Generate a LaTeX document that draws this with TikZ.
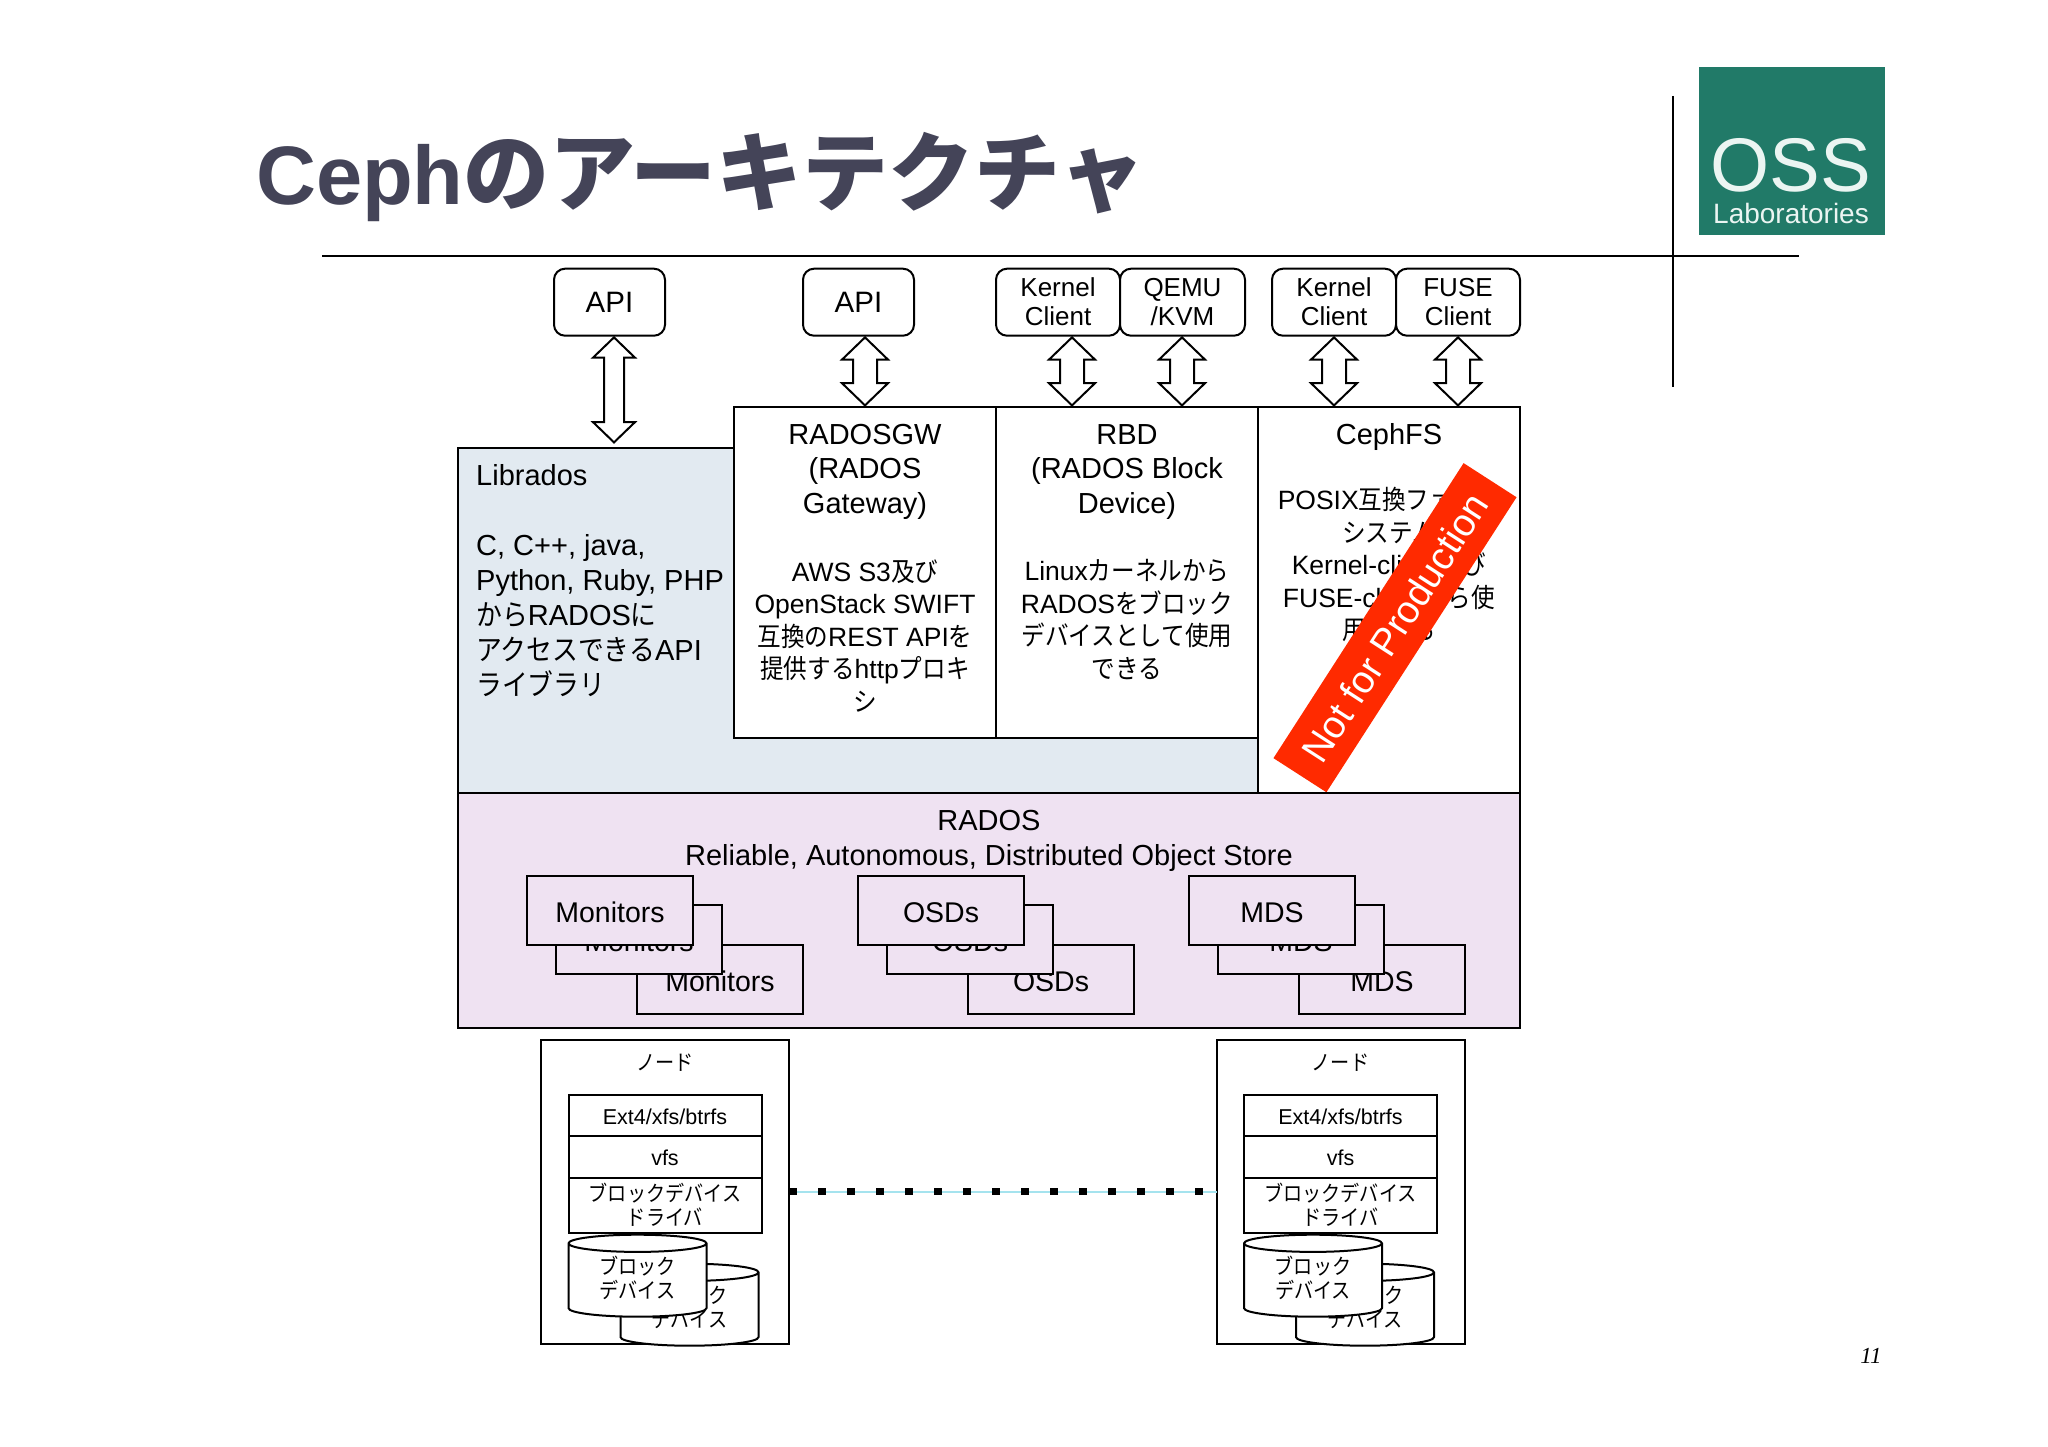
\documentclass[tikz,border=0pt]{standalone}
\usepackage{fontspec}
\usepackage{tikz}
\usetikzlibrary{shapes.geometric, shapes.arrows}
\setmainfont{Liberation Sans}
\newfontfamily\jpfont[FakeStretch=0.89]{Noto Sans CJK JP}
\newfontfamily\jptitle{Noto Sans CJK JP}
\newfontfamily\numfont{Liberation Serif}
\newcommand{\jp}[1]{{\jpfont #1}}

\definecolor{titlegray}{RGB}{68,68,88}
\definecolor{logogreen}{RGB}{33,122,104}
\definecolor{logotext}{RGB}{235,245,242}
\definecolor{libfill}{RGB}{226,234,241}
\definecolor{radosfill}{RGB}{239,226,242}
\definecolor{bandred}{RGB}{255,42,0}
\definecolor{linkblue}{RGB}{165,227,238}

\tikzset{
	boxline/.style={draw=black, line width=2pt, inner sep=0pt, outer sep=0pt, anchor=north west},
	clientbox/.style={boxline, rounded corners=11pt, fill=white, align=center, minimum height=67pt, font=\fontsize{26}{29}\selectfont},
	flowarrow/.style={draw=black, line width=2pt, fill=white, shape=double arrow, shape border rotate=90, outer sep=0pt, double arrow tip angle=92},
	headtext/.style={align=center, inner sep=0pt, font=\fontsize{29}{34.5}\selectfont},
	bodytext/.style={align=center, inner sep=0pt, font=\fontsize{26.5}{32.5}\selectfont},
	layerbox/.style={boxline, fill=white, minimum width=193pt, align=center, font=\fontsize{21.5}{24}\selectfont},
	diskshape/.style={cylinder, shape border rotate=90, draw=black, line width=2pt, fill=white, inner sep=0pt, aspect=0.2, minimum width=138pt, minimum height=82pt, anchor=north},
	disktext/.style={align=center, inner sep=0pt, font=\fontsize{21.5}{24}\selectfont},
	stackbox/.style={boxline, fill=radosfill, minimum width=166pt, minimum height=69pt, text height=24pt, text depth=0pt, font=\fontsize{28.5}{34}\selectfont},
}

\begin{document}
\begin{tikzpicture}[x=1pt, y=-1pt]
	\useasboundingbox (0,0) rectangle (2048,1447);

	% Title and rules
	\node[anchor=base west, inner sep=0pt, text=titlegray, font=\fontsize{83}{83}\selectfont\bfseries] (title) at (256,205) {Ceph{\jptitle\fontsize{86}{86}\selectfont のアーキテクチャ}};
	\coordinate (ruleL) at (322,256);
	\coordinate (ruleR) at (1799,256);
	\coordinate (ruleT) at (1673,96);
	\coordinate (ruleB) at (1673,387);
	\draw[line width=2pt] (ruleL) -- (ruleR);
	\draw[line width=2pt] (ruleT) -- (ruleB);

	% Logo
	\node[fill=logogreen, inner sep=0pt, anchor=north west, minimum width=186pt, minimum height=168pt] (logo) at (1699,67) {};
	\node[text=logotext, inner sep=0pt, font=\fontsize{76}{76}\selectfont] (logoOSS) at (1791,165) {OSS};
	\node[text=logotext, inner sep=0pt, font=\fontsize{28}{28}\selectfont] (logoLab) at (1791,213) {Laboratories};

	\begin{scope}[yshift=-0.7pt]
	% Clients
	\node[clientbox, minimum width=111pt, font=\fontsize{29.5}{29}\selectfont] (api1) at (554,268) {API};
	\node[clientbox, minimum width=111pt, font=\fontsize{29.5}{29}\selectfont] (api2) at (803,268) {API};
	\node[clientbox, minimum width=124pt] (krn1) at (996,268) {Kernel\\Client};
	\node[clientbox, minimum width=125pt] (qemu) at (1120,268) {QEMU\\/KVM};
	\node[clientbox, minimum width=124pt] (krn2) at (1272,268) {Kernel\\Client};
	\node[clientbox, minimum width=124pt] (fuse) at (1396,268) {FUSE\\Client};

	% Librados and the gateways
	\node[boxline, fill=libfill, minimum width=800pt, minimum height=345pt] (librados) at (458,447) {};
	\node[boxline, fill=white, minimum width=262pt, minimum height=331pt] (rgw) at (734,406) {};
	\node[boxline, fill=white, minimum width=262pt, minimum height=331pt] (rbd) at (996,406) {};
	\node[boxline, fill=white, minimum width=262pt, minimum height=386pt] (cephfs) at (1258,406) {};

	\node[anchor=west, align=left, inner sep=0pt, font=\fontsize{29}{35}\selectfont] (libtext) at (476,580) {Librados\\[35pt]C, C++, java,\\Python, Ruby, PHP\\\jp{から}RADOS\jp{に}\\\jp{アクセスできる}API\\\jp{ライブラリ}};
	\node[headtext] (rgwhead) at (865,471) {RADOSGW\\(RADOS\\Gateway)};
	\node[headtext] (rbdhead) at (1127,471) {RBD\\(RADOS Block\\Device)};
	\node[headtext] (fshead) at (1389,436) {CephFS};
	\node[bodytext] (rgwbody) at (865,635) {AWS S3\jp{及び}\\OpenStack SWIFT\\\jp{互換の}REST API\jp{を}\\\jp{提供する}http\jp{プロキ}\\\jp{シ}};
	\node[bodytext] (rbdbody) at (1127,619) {Linux\jp{カーネルから}\\RADOS\jp{をブロック}\\\jp{デバイスとして使用}\\\jp{できる}};
	\node[bodytext] (fsbody) at (1389,564) {POSIX\jp{互換ファイル}\\\jp{システム}\\Kernel-client\jp{及び}\\FUSE-client\jp{から使}\\\jp{用できる}};

	\node[fill=bandred, rotate=57.2, inner sep=0pt, minimum width=351pt, minimum height=63pt, text=white, font=\fontsize{38.5}{38.5}\selectfont] (band) at (1395,627) {Not for Production};

	% Arrows
	\node[flowarrow, inner sep=9pt, minimum height=105pt, double arrow head extend=11pt] (arr1) at (614,389.2) {};
	\foreach \name/\cx in {arr2/865, arr3/1072, arr4/1182, arr5/1334, arr6/1458}
		\node[flowarrow, inner sep=11pt, minimum height=68pt, double arrow head extend=11pt] (\name) at (\cx,370.7) {};

	% RADOS
	\node[boxline, fill=radosfill, minimum width=1062pt, minimum height=235pt] (rados) at (458,792) {};
	\node[headtext] (radostext) at (989,840) {RADOS\\Reliable, Autonomous, Distributed Object Store};
	\foreach \grp/\lab/\dx in {mon/Monitors/0, osd/OSDs/331, mds/MDS/662} {
		\node[stackbox] (\grp3) at ({637+\dx},944) {\lab};
		\node[stackbox] (\grp2) at ({556+\dx},904) {\lab};
		\node[stackbox] (\grp1) at ({527+\dx},875) {\lab};
	}

	% Storage nodes
	\foreach \nd/\dx in {a/0, b/675.5} {
		\node[boxline, fill=white, minimum width=248pt, minimum height=304pt] (node\nd) at ({541+\dx},1039) {};
		\node[inner sep=0pt, font=\fontsize{21.5}{24}\selectfont] (label\nd) at ({665+\dx},1062) {\jp{ノード}};
		\node[layerbox, minimum height=41pt, text height=19pt, text depth=0pt] (fs\nd) at ({568.5+\dx},1094) {Ext4/xfs/btrfs};
		\node[layerbox, minimum height=42pt, text height=18pt, text depth=0pt] (vfs\nd) at ({568.5+\dx},1135) {vfs};
		\node[layerbox, minimum height=55pt] (drv\nd) at ({568.5+\dx},1177) {\jp{ブロックデバイス}\\\jp{ドライバ}};
		\node[diskshape] (diskb\nd) at ({689.5+\dx},1262) {\rule{86pt}{0pt}};
		\node[disktext] (textb\nd) at ([yshift=3pt]diskb\nd.center) {\jp{ブロック}\\\jp{デバイス}};
		\node[diskshape] (diska\nd) at ({637.5+\dx},1233) {\rule{86pt}{0pt}};
		\node[disktext] (texta\nd) at ([yshift=3pt]diska\nd.center) {\jp{ブロック}\\\jp{デバイス}};
	}

	% Link between the nodes
	\draw[linkblue, line width=2pt] (nodea.east) -- (nodeb.west);
	\draw[black, line width=6.5pt, dash pattern=on 8pt off 21pt] (nodea.east) -- (nodeb.west);

	% Page number
	\node[inner sep=0pt, font=\numfont\itshape\fontsize{23}{23}\selectfont] (pagenum) at (1871,1355) {11};
	\end{scope}
\end{tikzpicture}
\end{document}
